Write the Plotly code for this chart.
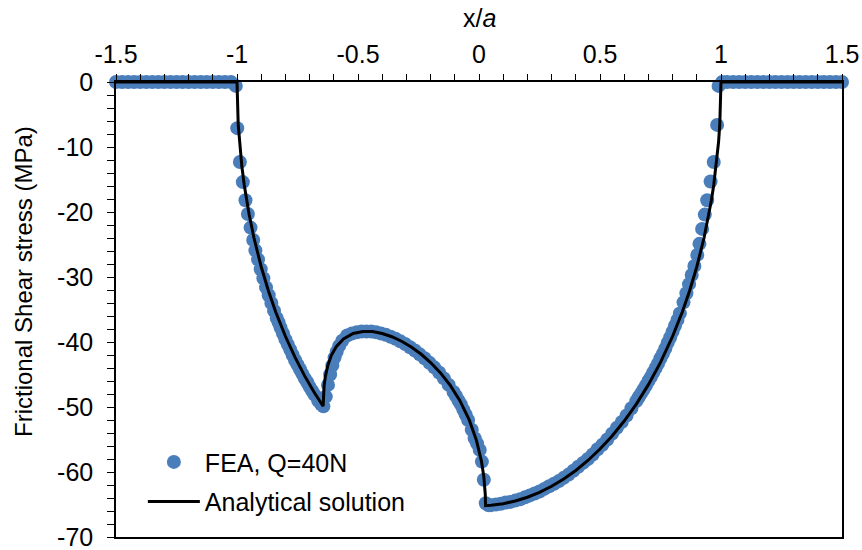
import plotly.graph_objects as go

# ---------------- data ----------------
fea_x = [
    -1.5, -1.475, -1.45, -1.425, -1.4, -1.375, -1.35, -1.325, -1.3, -1.275,
    -1.25, -1.225, -1.2, -1.175, -1.15, -1.125, -1.1, -1.075, -1.05, -1.025, -1.005,
    -0.999, -0.988, -0.976, -0.965, -0.955, -0.944, -0.933, -0.924, -0.913, -0.902,
    -0.891, -0.880, -0.869, -0.858, -0.847, -0.836, -0.828, -0.82, -0.81, -0.80,
    -0.79, -0.78, -0.77, -0.76, -0.75, -0.74, -0.73, -0.72, -0.71, -0.70,
    -0.69, -0.68, -0.665, -0.652, -0.643, -0.633, -0.624, -0.615, -0.606, -0.597,
    -0.588, -0.578, -0.565, -0.545, -0.525, -0.505, -0.485, -0.465, -0.445, -0.425,
    -0.405, -0.385, -0.365, -0.345, -0.325, -0.305, -0.285, -0.265, -0.245, -0.225,
    -0.205, -0.185, -0.165, -0.145, -0.125, -0.105, -0.095, -0.085, -0.075, -0.065,
    -0.055, -0.045, -0.030, -0.018, -0.008, 0.003, 0.012, 0.020, 0.028, 0.038,
    0.05, 0.07, 0.09, 0.11, 0.13, 0.15, 0.17, 0.19, 0.21, 0.23,
    0.25, 0.27, 0.29, 0.31, 0.33, 0.35, 0.37, 0.39, 0.41, 0.43,
    0.45, 0.47, 0.49, 0.51, 0.53, 0.55, 0.57, 0.59, 0.61, 0.63,
    0.65, 0.66, 0.67, 0.68, 0.69, 0.70, 0.71, 0.72, 0.73, 0.74,
    0.75, 0.76, 0.77, 0.78, 0.79, 0.80, 0.81, 0.82, 0.83, 0.845,
    0.857, 0.868, 0.879, 0.890, 0.902, 0.911, 0.922, 0.933, 0.943, 0.957,
    0.970, 0.984, 0.99,
    1.005, 1.025, 1.05, 1.075, 1.1, 1.125, 1.15, 1.175, 1.2, 1.225,
    1.25, 1.275, 1.3, 1.325, 1.35, 1.375, 1.4, 1.425, 1.45, 1.475, 1.5,
]
fea_tau = [
    0, 0, 0, 0, 0, 0, 0, 0, 0, 0,
    0, 0, 0, 0, 0, 0, 0, 0, 0, 0, -0.6,
    -7.1, -12.3, -15.4, -18.2, -20.3, -22.4, -24.3, -25.9, -27.3, -28.8,
    -30.2, -31.6, -32.8, -34.0, -35.2, -36.3, -37.0, -37.8, -38.7, -39.6,
    -40.4, -41.2, -42.0, -42.8, -43.5, -44.2, -44.9, -45.6, -46.2, -46.9,
    -47.5, -48.1, -49.0, -49.6, -49.9, -48.4, -46.6, -45.0, -43.6, -42.4,
    -41.5, -40.6, -39.8, -39.0, -38.7, -38.5, -38.4, -38.4, -38.4, -38.5,
    -38.7, -38.9, -39.2, -39.5, -39.9, -40.3, -40.8, -41.3, -41.9, -42.5,
    -43.2, -43.9, -44.7, -45.6, -46.6, -47.7, -48.3, -49.0, -49.6, -50.4,
    -51.2, -52.0, -53.5, -54.8, -55.6, -56.6, -58.4, -61.2, -64.8, -65.1,
    -65.1, -65.0, -64.9, -64.7, -64.6, -64.4, -64.2, -63.9, -63.6, -63.3,
    -63.0, -62.6, -62.2, -61.8, -61.4, -60.9, -60.4, -59.8, -59.2, -58.6,
    -58.0, -57.3, -56.5, -55.8, -55.0, -54.1, -53.2, -52.3, -51.3, -50.2,
    -49.1, -48.5, -47.9, -47.3, -46.7, -46.0, -45.4, -44.7, -44.0, -43.3,
    -42.5, -41.8, -41.0, -40.1, -39.3, -38.4, -37.5, -36.6, -35.6, -33.9,
    -32.5, -31.1, -29.7, -28.3, -26.6, -24.9, -22.6, -20.4, -18.2, -15.3,
    -12.3, -6.6, -0.6,
    0, 0, 0, 0, 0, 0, 0, 0, 0, 0,
    0, 0, 0, 0, 0, 0, 0, 0, 0, 0, 0,
]

ana_x = [
    -1.5, -1.0,
    -0.995, -0.99, -0.98, -0.97, -0.96, -0.95, -0.93, -0.9, -0.87, -0.84, -0.8, -0.76, -0.72, -0.68,
    -0.644, -0.643, -0.642, -0.64, -0.635, -0.625, -0.61, -0.59, -0.56,
    -0.52, -0.48, -0.44, -0.40, -0.36, -0.32, -0.28, -0.24, -0.20, -0.16, -0.12, -0.08, -0.04,
    -0.01, 0.01, 0.02, 0.025, 0.026, 0.027,
    0.05, 0.1, 0.15, 0.2, 0.25, 0.3, 0.35, 0.4, 0.45, 0.5, 0.55, 0.6, 0.65, 0.7, 0.75, 0.8,
    0.84, 0.87, 0.9, 0.93, 0.95, 0.96, 0.97, 0.98, 0.99, 0.995, 1.0, 1.5,
]
ana_tau = [
    0, 0,
    -6.51, -9.20, -12.97, -15.85, -18.26, -20.36, -23.96, -28.42, -32.15, -35.38, -39.12, -42.37, -45.25, -47.81,
    -49.88, -48.25, -47.60, -46.73, -45.33, -43.63, -42.05, -40.73, -39.53,
    -38.69, -38.38, -38.40, -38.69, -39.19, -39.88, -40.77, -41.85, -43.16, -44.72, -46.61, -48.95, -52.02,
    -55.20, -58.32, -60.74, -62.79, -63.49, -65.18,
    -65.12, -64.87, -64.46, -63.88, -63.13, -62.20, -61.08, -59.76, -58.23, -56.46, -54.45, -52.16, -49.55, -46.56, -43.13, -39.12,
    -35.38, -32.15, -28.42, -23.96, -20.36, -18.26, -15.85, -12.97, -9.20, -6.51, 0, 0,
]

x_tick_vals = [-1.5, -1.0, -0.5, 0.0, 0.5, 1.0, 1.5]
x_tick_text = ["-1.5", "-1", "-0.5", "0", "0.5", "1", "1.5"]
y_tick_vals = [0, -10, -20, -30, -40, -50, -60, -70]
y_tick_text = ["0", "-10", "-20", "-30", "-40", "-50", "-60", "-70"]

series_names = ["FEA, Q=40N", "Analytical solution"]

# ---------------- figure ----------------
FONT = "Liberation Sans, Arial, sans-serif"
BLUE = "#4A7EBB"

fig = go.Figure()
fig.add_trace(go.Scatter(
    x=fea_x, y=fea_tau, mode="markers", name=series_names[0], legendgroup="fea",
    marker=dict(color=BLUE, size=14, line=dict(width=0)),
    cliponaxis=False,
))
fig.add_trace(go.Scatter(
    x=ana_x, y=ana_tau, mode="lines", name=series_names[1], legendgroup="ana",
    line=dict(color="black", width=3),
    cliponaxis=False,
))

fig.update_layout(
    width=862, height=550, autosize=False,
    margin=dict(l=116, r=20, t=82, b=13, pad=0, autoexpand=False),
    paper_bgcolor="white", plot_bgcolor="white",
    font=dict(family=FONT, size=25, color="black"),
    showlegend=True,
    legend=dict(
        x=0.037, y=0.215, xanchor="left", yanchor="top",
        bgcolor="rgba(0,0,0,0)", borderwidth=0,
        font=dict(family=FONT, size=25, color="black"),
        itemwidth=52, tracegroupgap=4,
    ),
)

fig.update_xaxes(
    side="top", range=[-1.5, 1.5], showgrid=False, zeroline=False, automargin=False,
    showline=True, linecolor="black", linewidth=1.5, mirror=True,
    tickmode="array", tickvals=x_tick_vals, ticktext=x_tick_text,
    ticks="outside", ticklen=6, tickwidth=1.2, tickcolor="black",
    ticklabelstandoff=1, ticklabeloverflow="allow",
    tickfont=dict(family=FONT, size=25, color="black"),
    minor=dict(dtick=0.1, tick0=-1.5, ticks="outside", ticklen=6, tickwidth=1.2,
               tickcolor="black", showgrid=False),
)
fig.update_yaxes(
    range=[-70, 0], showgrid=False, zeroline=False, automargin=False,
    showline=True, linecolor="black", linewidth=1.5, mirror=True,
    tickmode="array", tickvals=y_tick_vals, ticktext=y_tick_text,
    ticks="outside", ticklen=7, tickwidth=1.2, tickcolor="black",
    ticklabelstandoff=9, ticklabeloverflow="allow",
    tickfont=dict(family=FONT, size=25, color="black"),
    minor=dict(dtick=2, tick0=0, ticks="outside", ticklen=7, tickwidth=1.2,
               tickcolor="black", showgrid=False),
)

fig.add_annotation(
    text="x/<i>a</i>", xref="paper", yref="paper", x=0.5, y=(537 - 18) / 455,
    xanchor="center", yanchor="middle", showarrow=False,
    font=dict(family=FONT, size=25, color="black"),
)
fig.add_annotation(
    text="Frictional Shear stress (MPa)", xref="paper", yref="paper",
    x=(23 - 116) / 726, y=(537 - 282) / 455, textangle=-90,
    xanchor="center", yanchor="middle", showarrow=False,
    font=dict(family=FONT, size=24, color="black"),
)

fig.write_html(
    "out.html",
    config={"displayModeBar": False},
    post_script="document.body.style.margin='0';document.body.style.padding='0';",
)
